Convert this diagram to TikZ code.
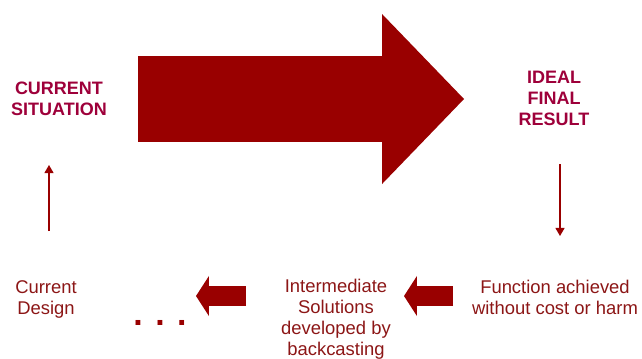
\documentclass[tikz,border=0pt]{standalone}
\usepackage{fontspec}
\setmainfont{Liberation Sans}
\usetikzlibrary{arrows.meta}
\definecolor{arrowred}{RGB}{153,0,0}
\definecolor{headred}{RGB}{158,0,58}
\definecolor{textred}{RGB}{140,22,22}

\begin{document}
\begin{tikzpicture}[x=0.025cm, y=-0.025cm,
		headtext/.style={font=\fontsize{12.8}{14.9}\selectfont\bfseries, text=headred, align=center, inner sep=0, anchor=base},
		stagetext/.style={font=\fontsize{13.1}{14.9}\selectfont, text=textred, align=center, inner sep=0, anchor=base},
		bigarrow/.style={arrowred, line width=61.2pt, -{Triangle[length=58.3pt, width=120.9pt, line width=0pt]}},
		blockarrow/.style={arrowred, line width=14.9pt, -{Triangle[length=9.2pt, width=28.5pt, line width=0pt]}},
		thinarrow/.style={arrowred, line width=0.8pt, -{Triangle[length=5.7pt, width=6.4pt]}}]
			\useasboundingbox (0,0) rectangle (642,358);

			\node[headtext] (cursit) at (59,115) {CURRENT\\SITUATION};
			\node[headtext] (ideal) at (554,125) {IDEAL\\FINAL\\RESULT};
			\node[stagetext] (curdesign) at (46,314) {Current\\Design};
			\node[stagetext] (inter) at (336,355) {Intermediate\\Solutions\\developed by\\backcasting};
			\node[stagetext] (func) at (555,314) {Function achieved\\without cost or harm};
			\node[font=\fontsize{24}{24}\selectfont\bfseries, text=arrowred, inner sep=0, anchor=base] (dots) at (160,325) {. . .};

			\coordinate (bigfrom) at (138,99);
			\coordinate (bigto) at (464,99);
			\coordinate (upfrom) at (49,231);
			\coordinate (upto) at (49,165);
			\coordinate (downfrom) at (560,164);
			\coordinate (downto) at (560,236);
			\coordinate (blkafrom) at (453,296);
			\coordinate (blkato) at (404,296);
			\coordinate (blkbfrom) at (246,296);
			\coordinate (blkbto) at (196,296);

			\path
				(bigfrom) edge[bigarrow] (bigto)
				(upfrom) edge[thinarrow] (upto)
				(downfrom) edge[thinarrow] (downto)
				(blkafrom) edge[blockarrow] (blkato)
				(blkbfrom) edge[blockarrow] (blkbto)
			;
		\end{tikzpicture}
\end{document}
